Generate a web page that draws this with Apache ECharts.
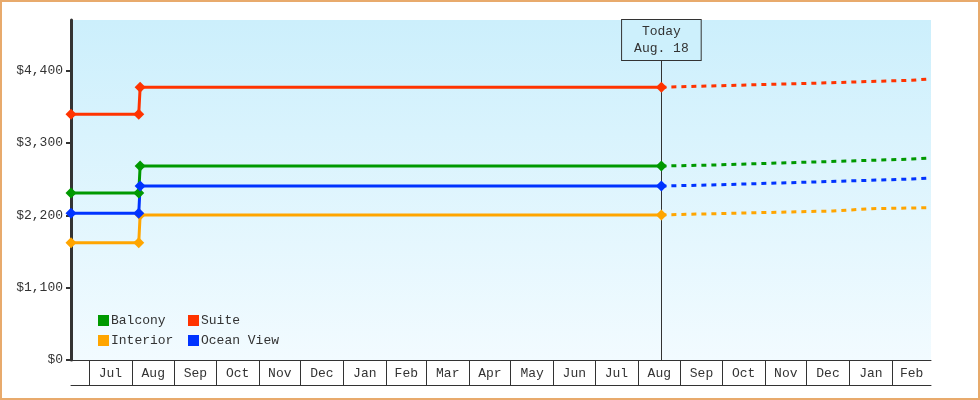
<!DOCTYPE html>
<html>
<head>
<meta charset="utf-8">
<script src="https://cdn.jsdelivr.net/npm/echarts@6/dist/echarts.min.js"></script>
<style>
html,body{margin:0;padding:0;background:#fff;}
#c{width:980px;height:400px;}
</style>
</head>
<body>
<div id="c"></div>
<script>
// ---- data ----
const seriesNames = ['Balcony', 'Suite', 'Interior', 'Ocean View'];
const seriesColors = ['#009900', '#ff3300', '#ffa500', '#0033ff'];

const pastDates = ['2023-06-18', '2023-08-06', '2023-08-07', '2024-08-18'];
const balconyPast = [2539, 2539, 2949, 2949];
const suitePast = [3738, 3738, 4147, 4147];
const interiorPast = [1781, 1781, 2206, 2206];
const oceanPast = [2230, 2230, 2646, 2646];

const forecastDates = ['2024-08-18', '2024-09-22', '2024-09-23', '2024-12-05', '2024-12-06', '2025-02-15', '2025-02-16', '2025-02-27'];
const balconyForecast = [2949, 2964, 2979, 3010, 3029, 3055, 3070, 3070];
const suiteForecast = [4147, 4167, 4178, 4208, 4228, 4254, 4273, 4273];
const oceanForecast = [2646, 2661, 2676, 2706, 2726, 2752, 2767, 2767];
const interiorForecastDates = ['2024-08-18', '2024-12-20', '2024-12-21', '2025-01-17', '2025-01-18', '2025-02-27'];
const interiorForecast = [2206, 2266, 2286, 2301, 2316, 2316];

const monthLabels = ['Jul','Aug','Sep','Oct','Nov','Dec','Jan','Feb','Mar','Apr','May','Jun','Jul','Aug','Sep','Oct','Nov','Dec','Jan','Feb'];
const firstMonth = [2023, 6]; // July 2023 (0-based month)
const yTicks = [0, 1100, 2200, 3300, 4400];
const yMax = 5170;
const xMin = '2023-06-18';
const xMax = '2025-03-01';
const todayDate = '2024-08-18';
const todayLabel = 'Today\nAug. 18';

// ---- build ----
function ts(s){ const p = s.split('-').map(Number); return Date.UTC(p[0], p[1]-1, p[2]); }
function pairs(dates, vals){ return dates.map((d,i)=>[ts(d), vals[i]]); }

const tickVals = [];
const labelVals = [];
const labelMap = {};
for (let i = 0; i < monthLabels.length; i++) {
  const y = firstMonth[0] + Math.floor((firstMonth[1] + i) / 12);
  const m = (firstMonth[1] + i) % 12;
  const s = Date.UTC(y, m, 1), e = Date.UTC(y, m + 1, 1);
  tickVals.push(s);
  const mid = (s + e) / 2;
  labelVals.push(mid);
  labelMap[mid] = monthLabels[i];
}

const FONT = 'Liberation Mono';
const txt = {fontFamily: FONT, fontSize: 13, color: '#333'};

const past = {Balcony: balconyPast, Suite: suitePast, Interior: interiorPast, 'Ocean View': oceanPast};
const fut = {
  Balcony: pairs(forecastDates, balconyForecast),
  Suite: pairs(forecastDates, suiteForecast),
  Interior: pairs(interiorForecastDates, interiorForecast),
  'Ocean View': pairs(forecastDates, oceanForecast)
};

const series = [];
seriesNames.forEach((n, i) => {
  series.push({
    name: n, type: 'line', data: pairs(pastDates, past[n]),
    symbol: 'diamond', symbolSize: 11, showAllSymbol: true,
    lineStyle: {width: 3, color: seriesColors[i]},
    itemStyle: {color: seriesColors[i]},
    z: 5, animation: false
  });
});
seriesNames.forEach((n, i) => {
  series.push({
    name: n, type: 'line', data: fut[n], symbol: 'none',
    lineStyle: {width: 3, color: seriesColors[i], type: [5, 5]},
    itemStyle: {color: seriesColors[i]},
    z: 4, animation: false
  });
});
series.push({
  name: '_today', type: 'line', data: [], animation: false,
  markLine: {
    silent: true, symbol: 'none', animation: false,
    lineStyle: {color: '#333', width: 1, type: 'solid'},
    label: {
      show: true, position: 'end', distance: 0, formatter: todayLabel,
      fontFamily: FONT, fontSize: 13, color: '#333', lineHeight: 17,
      backgroundColor: '#cdf0fc', borderColor: '#333', borderWidth: 1,
      padding: [3, 12, 3, 12], align: 'center'
    },
    data: [[{coord: [ts(todayDate), 0]}, {coord: [ts(todayDate), 4560]}]]
  }
});

const legendBase = {
  orient: 'vertical', icon: 'rect', itemWidth: 11, itemHeight: 11, itemGap: 7,
  textStyle: Object.assign({lineHeight: 11, padding: [0,0,0,-3]}, txt), top: 309
};

const chart = echarts.init(document.getElementById('c'), null, {renderer: 'canvas'});
chart.setOption({
  animation: false,
  backgroundColor: '#fff',
  grid: {
    left: 71, right: 49, top: 20, bottom: 40, show: true, borderWidth: 0,
    backgroundColor: new echarts.graphic.LinearGradient(0, 0, 0, 1, [
      {offset: 0, color: '#cceffc'}, {offset: 1, color: '#f2fbff'}
    ])
  },
  legend: [
    Object.assign({}, legendBase, {left: 93, data: ['Balcony', 'Interior']}),
    Object.assign({}, legendBase, {left: 183, data: ['Suite', 'Ocean View']})
  ],
  xAxis: [{
    type: 'value', min: ts(xMin), max: ts(xMax), scale: true,
    axisLine: {show: true, lineStyle: {color: '#333', width: 1}},
    axisTick: {show: true, length: 25, inside: false, customValues: tickVals, lineStyle: {color: '#333', width: 1}},
    axisLabel: Object.assign({show: true, customValues: labelVals, margin: 7, hideOverlap: false,
      formatter: v => labelMap[v] || ''}, txt),
    splitLine: {show: false}
  }, {
    type: 'value', min: ts(xMin), max: ts(xMax), scale: true, position: 'bottom', offset: 25,
    axisLine: {show: true, lineStyle: {color: '#333', width: 1}},
    axisTick: {show: false}, axisLabel: {show: false}, splitLine: {show: false}
  }],
  yAxis: {
    type: 'value', min: 0, max: yMax,
    axisLine: {show: true, lineStyle: {color: '#333', width: 3}},
    axisTick: {show: true, length: 5, customValues: yTicks, lineStyle: {color: '#333', width: 2}},
    axisLabel: Object.assign({customValues: yTicks, margin: 8,
      formatter: v => '$' + v.toLocaleString('en-US')}, txt),
    splitLine: {show: false}
  },
  series: series,
  graphic: [{
    type: 'rect', shape: {x: 1, y: 1, width: 978, height: 398},
    style: {fill: 'none', stroke: '#e8aa6c', lineWidth: 2}, z: 100, silent: true
  }]
});
</script>
</body>
</html>
